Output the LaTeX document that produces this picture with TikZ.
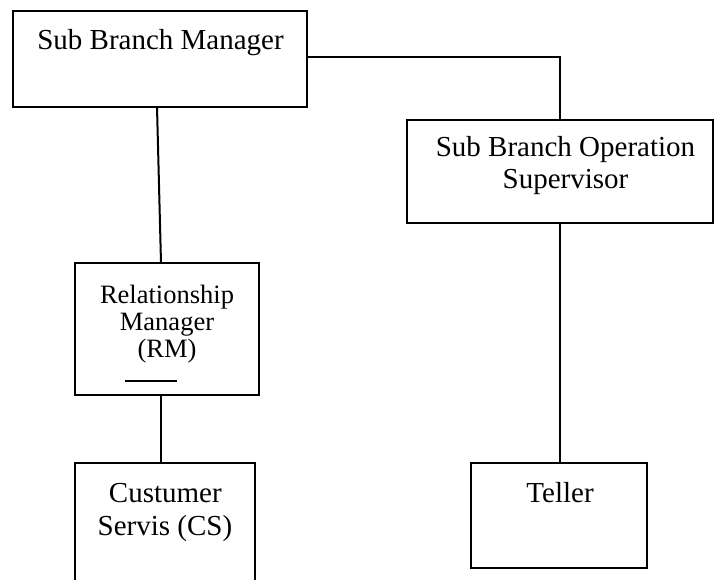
\documentclass[tikz,border=0pt]{standalone}
\usepackage{fontspec}
\setmainfont{Liberation Serif}
\begin{document}
\begin{tikzpicture}[x=1pt,y=-1pt,
  box/.style={draw=black,line width=2pt,inner sep=0pt,outer sep=0pt,minimum width=#1},
  lbl/.style={anchor=base,inner sep=0pt,font=\fontsize{29}{33}\selectfont},
  slbl/.style={anchor=base,inner sep=0pt,font=\fontsize{26.5}{28}\selectfont},
  conn/.style={draw=black,line width=2pt}]
\useasboundingbox (0,0) rectangle (714,580);
\clip (0,0) rectangle (714,580);
% boxes
\node[box=294pt,minimum height=96pt] (sbm) at (160,59) {};
\node[box=306pt,minimum height=103pt] (sbos) at (560,171.5) {};
\node[box=184pt,minimum height=132pt] (rm) at (167,329) {};
\node[box=180pt,minimum height=130pt] (cs) at (165,528) {};
\node[box=176pt,minimum height=105pt] (tel) at (559,515.5) {};
% texts
\node[lbl] (t1) at (160.5,50) {Sub Branch Manager};
\node[lbl] (t2a) at (565.5,157) {Sub Branch Operation};
\node[lbl] (t2b) at (565.5,189) {Supervisor};
\node[slbl] (t3a) at (167,303) {Relationship};
\node[slbl] (t3b) at (167,330) {Manager};
\node[slbl] (t3c) at (167,357) {(RM)};
\node[lbl] (t4a) at (165.3,502) {Custumer};
\node[lbl] (t4b) at (165,535) {Servis (CS)};
\node[lbl] (t5) at (560,502) {Teller};
% underline in RM box
\coordinate (ul1) at (125,381);
\coordinate (ul2) at (177,381);
\draw[conn] (ul1) -- (ul2);
% connectors
\coordinate (sbmr) at (sbm.east |- 0,57);
\coordinate (sbmb) at (157,107);
\coordinate (rmt) at (161,263);
\draw[conn] (sbmr) -| (sbos.north);
\draw[conn] (sbmb) -- (rmt);
\draw[conn] (sbos.south) -- (tel.north -| sbos.south);
\draw[conn] (rm.south -| 161,0) -- (cs.north -| 161,0);
\end{tikzpicture}
\end{document}
